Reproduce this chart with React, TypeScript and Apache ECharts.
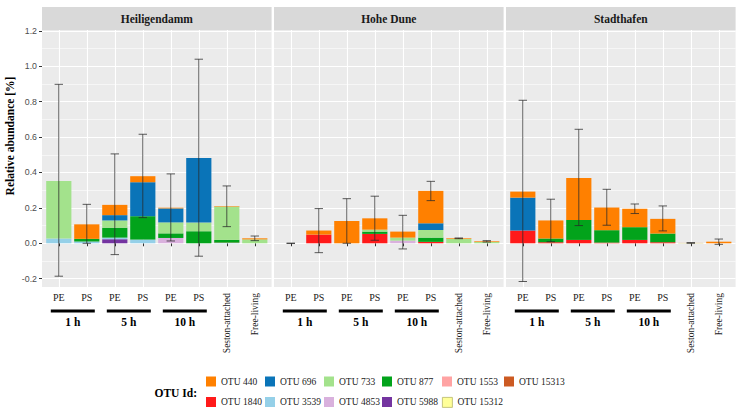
import React, { useEffect, useRef } from "react";
import * as echarts from "echarts";

// ---------- data ----------
const CATEGORIES = ["PE", "PS", "PE", "PS", "PE", "PS", "Seston-attached", "Free-living"];
const TIME_LABELS = ["1 h", "5 h", "10 h"];
const TIME_POSITIONS = [1.5, 3.5, 5.5];
const SITES = ["Heiligendamm", "Hohe Dune", "Stadthafen"];
const Y_TICKS = [-0.2, 0, 0.2, 0.4, 0.6, 0.8, 1.0, 1.2];
const Y_MINOR = [-0.1, 0.1, 0.3, 0.5, 0.7, 0.9, 1.1];

// legend order (row-wise)
const OTU_ROW1 = ["OTU 440", "OTU 696", "OTU 733", "OTU 877", "OTU 1553", "OTU 15313"];
const OTU_ROW2 = ["OTU 1840", "OTU 3539", "OTU 4853", "OTU 5988", "OTU 15312"];
// stacking order (bottom to top)
const STACK_ORDER = [
  "OTU 15312", "OTU 5988", "OTU 4853", "OTU 3539", "OTU 1840", "OTU 15313",
  "OTU 1553", "OTU 877", "OTU 733", "OTU 696", "OTU 440",
];

const HEILIGENDAMM: Record<string, number[]> = {
  "OTU 440": [0, 0.082, 0.058, 0.034, 0.004, 0, 0.003, 0.006],
  "OTU 696": [0, 0, 0.03, 0.192, 0.079, 0.365, 0, 0],
  "OTU 733": [0.325, 0, 0.041, 0, 0.062, 0.049, 0.188, 0.022],
  "OTU 877": [0, 0.015, 0.056, 0.132, 0.026, 0.068, 0.015, 0],
  "OTU 1553": [0, 0, 0, 0, 0, 0, 0, 0],
  "OTU 15313": [0, 0, 0, 0, 0, 0, 0.002, 0],
  "OTU 1840": [0, 0, 0, 0, 0, 0, 0, 0],
  "OTU 3539": [0.027, 0.01, 0.009, 0.021, 0, 0, 0.002, 0],
  "OTU 4853": [0, 0, 0, 0, 0.03, 0, 0, 0],
  "OTU 5988": [0, 0, 0.023, 0, 0, 0, 0, 0],
  "OTU 15312": [0, 0, 0, 0, 0, 0, 0, 0],
};
const HEILIGENDAMM_ERR_LOW = [-0.186, 0.0, -0.064, 0.145, 0.013, -0.073, 0.094, 0.015];
const HEILIGENDAMM_ERR_HIGH = [0.898, 0.22, 0.505, 0.616, 0.392, 1.04, 0.324, 0.041];

const HOHE_DUNE: Record<string, number[]> = {
  "OTU 440": [0, 0.023, 0.126, 0.064, 0.034, 0.183, 0.004, 0.004],
  "OTU 696": [0, 0, 0, 0, 0, 0.038, 0, 0],
  "OTU 733": [0, 0, 0, 0.011, 0.017, 0.043, 0.024, 0.007],
  "OTU 877": [0, 0, 0, 0.013, 0, 0.024, 0, 0],
  "OTU 1553": [0, 0, 0, 0, 0, 0, 0, 0],
  "OTU 15313": [0, 0, 0, 0, 0, 0, 0, 0],
  "OTU 1840": [0, 0.049, 0, 0.053, 0, 0.008, 0, 0],
  "OTU 3539": [0, 0, 0, 0, 0, 0, 0, 0],
  "OTU 4853": [0, 0, 0, 0, 0.015, 0, 0, 0],
  "OTU 5988": [0, 0, 0, 0, 0, 0, 0, 0],
  "OTU 15312": [0, 0, 0, 0, 0, 0, 0, 0],
};
const HOHE_DUNE_ERR_LOW = [0, -0.053, 0.0, 0.017, -0.032, 0.241, 0.026, 0.007];
const HOHE_DUNE_ERR_HIGH = [0, 0.196, 0.252, 0.266, 0.158, 0.35, 0.03, 0.015];

const STADTHAFEN: Record<string, number[]> = {
  "OTU 440": [0.034, 0.102, 0.237, 0.128, 0.104, 0.083, 0.001, 0.009],
  "OTU 696": [0.186, 0, 0, 0, 0, 0, 0, 0],
  "OTU 733": [0, 0, 0, 0, 0, 0, 0.001, 0],
  "OTU 877": [0, 0.021, 0.113, 0.07, 0.072, 0.049, 0, 0],
  "OTU 1553": [0, 0, 0, 0, 0, 0, 0, 0],
  "OTU 15313": [0, 0, 0, 0, 0, 0, 0, 0],
  "OTU 1840": [0.072, 0.006, 0.019, 0.004, 0.019, 0.006, 0, 0],
  "OTU 3539": [0, 0, 0, 0, 0, 0, 0, 0],
  "OTU 4853": [0, 0, 0, 0, 0, 0, 0, 0],
  "OTU 5988": [0, 0, 0, 0, 0, 0, 0, 0],
  "OTU 15312": [0, 0, 0, 0, 0, 0, 0, 0],
};
const STADTHAFEN_ERR_LOW = [-0.216, 0.009, 0.1, 0.102, 0.168, 0.07, 0.0, -0.006];
const STADTHAFEN_ERR_HIGH = [0.808, 0.249, 0.644, 0.305, 0.222, 0.211, 0.004, 0.024];

// ---------- styles ----------
const OTU_COLORS: Record<string, string> = {
  "OTU 440": "#ff8000",
  "OTU 696": "#0a74b8",
  "OTU 733": "#a3e28c",
  "OTU 877": "#02a31b",
  "OTU 1553": "#ffa3a3",
  "OTU 15313": "#cc5a22",
  "OTU 1840": "#ff1a1a",
  "OTU 3539": "#95d0e8",
  "OTU 4853": "#d9b1dd",
  "OTU 5988": "#7434a0",
  "OTU 15312": "#ffff99",
};

const SERIF = '"Liberation Serif", "Times New Roman", serif';
const SANS = '"Liberation Sans", Arial, sans-serif';
const PANEL_LEFTS = [42, 274, 506];
const PANEL_W = 229.6;
const PANEL_TOP = 30;
const PANEL_H = 257;
const X_MIN = 0.4;
const X_MAX = 8.6;
const Y_MIN = -0.247;
const Y_MAX = 1.205;
const LEGEND_COLS = [206, 265, 324, 382, 442, 504];
const LEGEND_ROW_TOPS = [376.5, 397];

const SITE_DATA = [HEILIGENDAMM, HOHE_DUNE, STADTHAFEN];
const SITE_ERR_LOW = [HEILIGENDAMM_ERR_LOW, HOHE_DUNE_ERR_LOW, STADTHAFEN_ERR_LOW];
const SITE_ERR_HIGH = [HEILIGENDAMM_ERR_HIGH, HOHE_DUNE_ERR_HIGH, STADTHAFEN_ERR_HIGH];

function buildOption() {
  const catPositions = CATEGORIES.map((_, k) => k + 1);
  const grids: any[] = [];
  const xAxes: any[] = [];
  const yAxes: any[] = [];
  const series: any[] = [];
  const graphics: any[] = [];
  const unit = PANEL_W / (X_MAX - X_MIN);
  const inset = (1 - X_MIN) * unit - unit / 2; // extra expansion beyond half a band

  SITES.forEach((site, i) => {
    const bgGrid = i * 2;
    const barGrid = i * 2 + 1;
    // background panel (value axes for labels, ticks, grid lines)
    grids.push({
      left: PANEL_LEFTS[i],
      top: PANEL_TOP,
      width: PANEL_W,
      height: PANEL_H,
      show: true,
      backgroundColor: "#ebebeb",
      borderWidth: 0,
    });
    // bar panel (category axis)
    grids.push({
      left: PANEL_LEFTS[i] + inset,
      top: PANEL_TOP,
      width: PANEL_W - 2 * inset,
      height: PANEL_H,
      show: false,
    });

    // x axis: PE / PS labels, ticks and vertical grid lines
    xAxes.push({
      type: "value",
      gridIndex: bgGrid,
      min: X_MIN,
      max: X_MAX,
      position: "bottom",
      offset: 0,
      axisLine: { show: false },
      axisTick: { show: true, length: 3, lineStyle: { color: "#333333", width: 1 }, customValues: catPositions },
      axisLabel: {
        customValues: catPositions.slice(0, 6),
        formatter: (v: number) => CATEGORIES[Math.round(v) - 1],
        fontFamily: SERIF,
        fontSize: 10,
        color: "#1a1a1a",
        margin: 5,
      },
      splitLine: { show: true, lineStyle: { color: "#ffffff", width: 1.1 } },
    });
    // x axis: rotated labels
    xAxes.push({
      type: "value",
      gridIndex: bgGrid,
      min: X_MIN,
      max: X_MAX,
      position: "bottom",
      offset: 0,
      axisLine: { show: false },
      axisTick: { show: false, customValues: catPositions.slice(6) },
      axisLabel: {
        customValues: catPositions.slice(6),
        formatter: (v: number) => CATEGORIES[Math.round(v) - 1],
        rotate: 90,
        fontFamily: SERIF,
        fontSize: 9.5,
        color: "#1a1a1a",
        margin: 6,
      },
      splitLine: { show: false },
    });
    // x axis: time groups with underline bars
    xAxes.push({
      type: "value",
      gridIndex: bgGrid,
      min: X_MIN,
      max: X_MAX,
      position: "bottom",
      offset: 0,
      axisLine: { show: false },
      axisTick: { show: false, customValues: TIME_POSITIONS },
      axisLabel: {
        customValues: TIME_POSITIONS,
        formatter: (v: number) => `{bar|\u00a0}\n{t|${TIME_LABELS[TIME_POSITIONS.indexOf(v)]}}`,
        margin: 22.5,
        rich: {
          bar: { width: 44, height: 3, lineHeight: 3, backgroundColor: "#000000" },
          t: { fontFamily: SERIF, fontWeight: "bold", fontSize: 11.5, color: "#000000", lineHeight: 18 },
        },
      },
      splitLine: { show: false },
    });
    // x axis for bars (category, hidden)
    xAxes.push({
      type: "category",
      gridIndex: barGrid,
      data: CATEGORIES.map((c, k) => c + "_" + k),
      show: false,
    });

    // y axis: major
    yAxes.push({
      type: "value",
      gridIndex: bgGrid,
      min: Y_MIN,
      max: Y_MAX,
      position: "left",
      axisLine: { show: false },
      axisTick: { show: i === 0, length: 3, lineStyle: { color: "#333333" }, customValues: Y_TICKS },
      axisLabel: {
        show: i === 0,
        customValues: Y_TICKS,
        formatter: (v: number) => v.toFixed(1),
        fontFamily: SANS,
        fontSize: 8.8,
        color: "#4d4d4d",
        margin: 5,
      },
      splitLine: { show: true, lineStyle: { color: "#ffffff", width: 1.1 } },
    });
    // y axis: minor grid lines
    yAxes.push({
      type: "value",
      gridIndex: bgGrid,
      min: Y_MIN,
      max: Y_MAX,
      position: "left",
      axisLine: { show: false },
      axisTick: { show: false, customValues: Y_MINOR },
      axisLabel: { show: false, customValues: Y_MINOR },
      splitLine: { show: true, lineStyle: { color: "#ffffff", width: 0.55 } },
    });
    // y axis for bars (hidden)
    yAxes.push({
      type: "value",
      gridIndex: barGrid,
      min: Y_MIN,
      max: Y_MAX,
      show: false,
      splitLine: { show: false },
    });

    const data = SITE_DATA[i];
    STACK_ORDER.forEach((otu) => {
      series.push({
        type: "bar",
        name: otu,
        xAxisIndex: i * 4 + 3,
        yAxisIndex: i * 3 + 2,
        stack: "site" + i,
        barWidth: "90%",
        itemStyle: { color: OTU_COLORS[otu] },
        emphasis: { disabled: true },
        silent: true,
        data: data[otu],
      });
    });

    const lows = SITE_ERR_LOW[i];
    const highs = SITE_ERR_HIGH[i];
    series.push({
      type: "custom",
      xAxisIndex: i * 4 + 3,
      yAxisIndex: i * 3 + 2,
      silent: true,
      z: 5,
      encode: { x: 0, y: [1, 2] },
      data: lows.map((lo, k) => [k, lo, highs[k]]),
      renderItem: (params: any, api: any) => {
        const x = api.value(0);
        const p1 = api.coord([x, api.value(1)]);
        const p2 = api.coord([x, api.value(2)]);
        const half = (api.size([1, 0])[0] * 0.3) / 2;
        const st = { stroke: "rgba(40,40,40,0.75)", lineWidth: 1 };
        return {
          type: "group",
          children: [
            { type: "line", shape: { x1: p1[0], y1: p1[1], x2: p2[0], y2: p2[1] }, style: st },
            { type: "line", shape: { x1: p1[0] - half, y1: p1[1], x2: p1[0] + half, y2: p1[1] }, style: st },
            { type: "line", shape: { x1: p2[0] - half, y1: p2[1], x2: p2[0] + half, y2: p2[1] }, style: st },
          ],
        };
      },
    });

    // facet strip
    graphics.push({
      type: "rect",
      shape: { x: PANEL_LEFTS[i], y: 7, width: PANEL_W, height: 23 },
      style: { fill: "#d9d9d9" },
      silent: true,
    });
    graphics.push({
      type: "text",
      x: PANEL_LEFTS[i] + PANEL_W / 2,
      y: 18.5,
      style: {
        text: site,
        fontFamily: SERIF,
        fontWeight: "bold",
        fontSize: 11.5,
        fill: "#1a1a1a",
        align: "center",
        verticalAlign: "middle",
      },
      silent: true,
    });
  });

  // y axis title
  graphics.push({
    type: "text",
    x: 10,
    y: 136,
    rotation: Math.PI / 2,
    style: {
      text: "Relative abundance [%]",
      fontFamily: SERIF,
      fontWeight: "bold",
      fontSize: 11.5,
      fill: "#000000",
      align: "center",
      verticalAlign: "middle",
    },
    silent: true,
  });
  // legend title
  graphics.push({
    type: "text",
    x: 197,
    y: 392.5,
    style: {
      text: "OTU Id:",
      fontFamily: SERIF,
      fontWeight: "bold",
      fontSize: 11.5,
      fill: "#000000",
      align: "right",
      verticalAlign: "middle",
    },
    silent: true,
  });

  const legends: any[] = [];
  [OTU_ROW1, OTU_ROW2].forEach((row, r) => {
    row.forEach((otu, c) => {
      legends.push({
        show: true,
        left: LEGEND_COLS[c],
        top: LEGEND_ROW_TOPS[r],
        padding: 0,
        orient: "horizontal",
        icon: "rect",
        itemWidth: 10,
        itemHeight: 10,
        selectedMode: false,
        textStyle: { fontFamily: SERIF, fontSize: 9.5, color: "#1a1a1a", lineHeight: 10 },
        data: [
          otu === "OTU 15312"
            ? { name: otu, itemStyle: { borderColor: "#b8b86a", borderWidth: 0.8 } }
            : { name: otu },
        ],
      });
    });
  });

  return {
    animation: false,
    backgroundColor: "#ffffff",
    grid: grids,
    xAxis: xAxes,
    yAxis: yAxes,
    series,
    legend: legends,
    graphic: graphics,
  };
}

export default function App() {
  const ref = useRef<HTMLDivElement>(null);
  useEffect(() => {
    if (!ref.current) return;
    const chart = echarts.init(ref.current, undefined, { renderer: "svg" });
    chart.setOption(buildOption() as any);
    return () => chart.dispose();
  }, []);
  return (
    <div
      ref={ref}
      style={{ position: "fixed", left: 0, top: 0, width: 738, height: 410, background: "#fff" }}
    />
  );
}
